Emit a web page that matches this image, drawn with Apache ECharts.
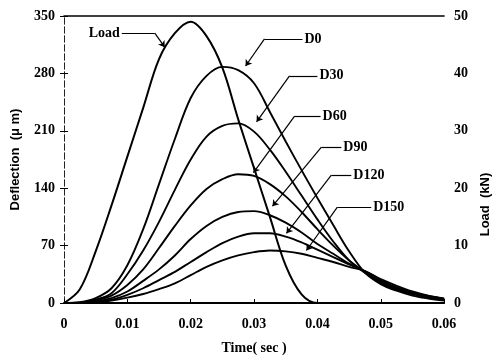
<!DOCTYPE html>
<html>
<head>
<meta charset="utf-8">
<script src="https://cdn.jsdelivr.net/npm/echarts@6/dist/echarts.min.js"></script>
<style>html,body{margin:0;padding:0;background:#fff}#c{width:500px;height:360px}</style>
</head>
<body>
<div id="c"></div>
<script>
// ---- data ----
const times = [0,0.0025,0.005,0.0075,0.01,0.0125,0.015,0.0175,0.02,0.0225,0.025,0.0275,0.03,0.0325,0.035,0.0375,0.04,0.0425,0.045,0.0475,0.05,0.0525,0.055,0.0575,0.06];
const loadKN = [0,2.4,9,17,25.5,34,42.5,47,49,46.5,41,32,23.5,15,6.5,1.5,0,0,0,0,0,0,0,0,0];
const d0   = [0,1,6,18,46,90,145,200,250,277,288,284,268,233,197,162,128,95,63,37,23,15,9,5.5,3];
const d30  = [0,0.5,4,12,35,64,99,138,175,203,216,219,209,187,160,131,102,75,52,37,24,16,11,7,4];
const d60  = [0,0.3,3,9,22,41,67,94,119,139,151,157,155,145,130,111,90,70,52,38,25,17,11.5,7.5,4.5];
const d90  = [0,0.2,2,6,14,27,41,58,78,94,105,111,112,107,98,86,72,60,48,38,26,18,12,8,5];
const d120 = [0,0.1,1.5,4,10,18,28,38,50,62,73,81,85,85,81,74,65,56,47,39,28,19,13,8.5,5];
const d150 = [0,0.1,1,3,6.5,11,17,24,34,44,52,58,62,64,63,60,55,50,44,39,29,21,14,9,5.5];
const deflNames = ['D0','D30','D60','D90','D120','D150'];
// annotations (data coordinates on the deflection axis)
const annoText    = ['Load','D0','D30','D60','D90','D120','D150'];
const annoLabelAt = [[0.00913,329],[0.03764,322],[0.0400,277],[0.0405,228],[0.04378,190],[0.04535,156],[0.0485,117]];
const annoElbow   = [[0.01433,329],[0.03165,322],[0.0356,277],[0.0364,228],[0.04063,190],[0.0422,156],[0.04315,117]];
const annoTip     = [[0.0159,312],[0.02866,289],[0.0304,221],[0.0299,159],[0.03291,118],[0.03512,85],[0.03827,64]];

// ---- chart ----
const pairs = arr => times.map((t, i) => [t, arr[i]]);
const serif = '"Liberation Serif", "Times New Roman", serif';
const sans = '"Liberation Sans", Arial, sans-serif';
const lineStyle = { color: '#000', width: 1.9 };
const deflSeries = [d0, d30, d60, d90, d120, d150].map((arr, k) => ({
  name: deflNames[k], type: 'line', data: pairs(arr), smooth: 0.35,
  showSymbol: false, lineStyle, yAxisIndex: 0, z: 3
}));
const segs = [];
annoText.forEach((t, i) => {
  segs.push([{ coord: annoLabelAt[i], symbol: 'none' }, { coord: annoElbow[i], symbol: 'none' }]);
  segs.push([{ coord: annoElbow[i], symbol: 'none' }, { coord: annoTip[i], symbol: 'arrow', symbolSize: 6 }]);
});
const labels = annoText.map((t, i) => ({
  coord: annoLabelAt[i], value: t,
  label: { position: i === 0 ? 'left' : 'right', distance: 2 }
}));

const chart = echarts.init(document.getElementById('c'), null, { renderer: 'canvas' });
chart.setOption({
  animation: false,
  backgroundColor: '#fff',
  grid: { left: 64, right: 55, top: 16, bottom: 56, containLabel: false },
  xAxis: [{
    type: 'value', min: 0, max: 0.06, interval: 0.01,
    name: 'Time( sec )', nameLocation: 'middle', nameGap: 38,
    nameTextStyle: { fontFamily: serif, fontWeight: 'bold', fontSize: 14, color: '#000' },
    axisLine: { lineStyle: { color: '#000', width: 2 } },
    axisTick: { inside: true, length: 4, lineStyle: { color: '#000' } },
    axisLabel: { fontFamily: serif, fontWeight: 'bold', fontSize: 14, color: '#000', margin: 14,
      formatter: v => (v === 0 ? '0' : String(+v.toFixed(2))) },
    splitLine: { show: false }
  }, {
    type: 'value', min: 0, max: 0.06, position: 'top',
    axisLine: { show: true, onZero: false, lineStyle: { color: '#000', width: 1.5 } },
    axisTick: { show: false }, axisLabel: { show: false }, splitLine: { show: false }
  }],
  yAxis: [{
    type: 'value', min: 0, max: 350, interval: 70,
    name: 'Deflection  (μ m)', nameLocation: 'middle', nameGap: 42,
    nameTextStyle: { fontFamily: sans, fontWeight: 'bold', fontSize: 13, color: '#000' },
    axisLine: { show: true, lineStyle: { color: '#222', width: 1, type: [6, 3] } },
    axisTick: { inside: true, length: 4, lineStyle: { color: '#000' } },
    axisLabel: { fontFamily: serif, fontWeight: 'bold', fontSize: 14, color: '#000', margin: 9 },
    splitLine: { show: false }
  }, {
    type: 'value', min: 0, max: 50, interval: 10, position: 'right',
    name: 'Load  (kN)', nameLocation: 'middle', nameGap: 34,
    nameTextStyle: { fontFamily: sans, fontWeight: 'bold', fontSize: 13, color: '#000', padding: [0, 90, 0, 0] },
    axisLine: { show: true, lineStyle: { color: '#222', width: 1, type: [6, 3] } },
    axisTick: { inside: true, length: 4, lineStyle: { color: '#000' } },
    axisLabel: { fontFamily: serif, fontWeight: 'bold', fontSize: 14, color: '#000', margin: 10 },
    splitLine: { show: false }
  }],
  series: [
    { name: 'Load', type: 'line', data: pairs(loadKN), smooth: 0.35, showSymbol: false,
      lineStyle: { color: '#000', width: 2 }, yAxisIndex: 1, z: 4 },
    ...deflSeries,
    { name: 'annotations', type: 'line', data: [], yAxisIndex: 0, silent: true,
      markLine: { silent: true, animation: false, symbol: ['none', 'none'],
        lineStyle: { color: '#000', width: 1.2, type: 'solid' },
        label: { show: false }, emphasis: { disabled: true }, data: segs },
      markPoint: { silent: true, animation: false, symbol: 'circle', symbolSize: 0,
        itemStyle: { color: 'transparent' },
        label: { show: true, formatter: p => p.value, fontFamily: serif, fontWeight: 'bold',
          fontSize: 14, color: '#000' },
        data: labels }
    }
  ]
});
</script>
</body>
</html>
